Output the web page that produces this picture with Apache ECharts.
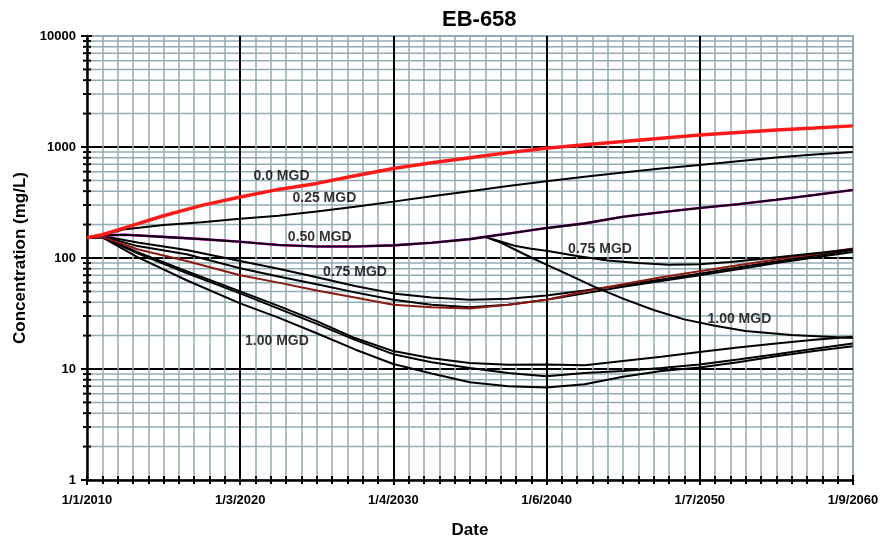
<!DOCTYPE html>
<html>
<head>
	<meta charset="utf-8">
	<script src="https://cdn.jsdelivr.net/npm/echarts@6.0.0/dist/echarts.min.js"></script>
	<style>
		html, body { margin: 0; padding: 0; background: #fff; }
		#main { width: 889px; height: 538px; }
	</style>
</head>
<body>
	<div id="main"></div>
	<script type="text/javascript">
		// [year, mg/L]
		const mgd000 = [[2010, 152], [2011, 162], [2012.5, 188], [2015, 240], [2017.5, 298], [2020, 355], [2022.5, 415], [2025, 470], [2027.5, 550], [2030, 640], [2032.5, 720], [2035, 800], [2037.5, 890], [2040, 975], [2042.5, 1050], [2045, 1120], [2047.5, 1200], [2050, 1280], [2052.5, 1350], [2055, 1420], [2057.5, 1480], [2060, 1550]]
		const mgd025 = [[2010, 152], [2011, 160], [2012.5, 182], [2015, 198], [2017.5, 210], [2020, 226], [2022.5, 240], [2025, 262], [2027.5, 290], [2030, 322], [2032.5, 360], [2035, 400], [2037.5, 445], [2040, 492], [2042.5, 540], [2045, 590], [2047.5, 640], [2050, 690], [2052.5, 745], [2055, 805], [2057.5, 855], [2060, 900]]
		const mgd050 = [[2010, 152], [2011, 160], [2012.5, 162], [2015, 155], [2017.5, 148], [2020, 140], [2022.5, 131], [2025, 127], [2027.5, 127], [2030, 130], [2032.5, 137], [2035, 148], [2036, 155], [2038, 170], [2040, 186], [2042.5, 205], [2045, 235], [2047.5, 258], [2050, 282], [2052.5, 305], [2055, 335], [2057.5, 370], [2060, 410]]
		const mgd050to075 = [[2036, 155], [2037, 141], [2038, 128], [2039, 121], [2040, 116], [2042, 104], [2044, 95], [2046, 90], [2048, 87], [2050, 88], [2052, 92], [2054, 98], [2056, 105], [2058, 112], [2060, 120]]
		const mgd050to100 = [[2036, 155], [2037, 138], [2038, 118], [2039, 101], [2040, 87], [2041.5, 70], [2043, 56], [2045, 43], [2047, 34], [2049, 28], [2051, 24.5], [2053, 22], [2056, 20.2], [2060, 19]]
		const mgd075a = [[2010, 152], [2011, 158], [2013.3, 138], [2016.5, 118], [2020, 94], [2022.5, 80], [2025, 67], [2027.5, 56], [2030, 48], [2032.5, 44], [2035, 42], [2037.5, 43], [2040, 46], [2042.5, 51], [2045, 57], [2047.5, 64], [2050, 72], [2052.5, 82], [2055, 93], [2057.5, 105], [2060, 118]]
		const mgd075b = [[2010, 152], [2011, 156], [2013.3, 128], [2016.5, 108], [2020, 81], [2022.5, 68], [2025, 58], [2027.5, 49], [2030, 42], [2032.5, 38], [2035, 36], [2037.5, 38], [2040, 42], [2042.5, 48], [2045, 55], [2047.5, 62], [2050, 70], [2052.5, 79], [2055, 90], [2057.5, 101], [2060, 113]]
		const mgd075c = [[2010, 152], [2011, 155], [2013.3, 120], [2016.5, 94], [2020, 70], [2022.5, 60], [2025, 51], [2027.5, 44], [2030, 38], [2032.5, 36], [2035, 35], [2037.5, 38], [2040, 42], [2042.5, 50], [2045, 58], [2047.5, 67], [2050, 76], [2052.5, 86], [2055, 97], [2057.5, 108], [2060, 122]]
		const mgd100a = [[2010, 152], [2011, 155], [2013.3, 113], [2016.5, 76], [2020, 50], [2022.5, 37], [2025, 27], [2027.5, 19], [2030, 14.5], [2032.5, 12.5], [2035, 11.3], [2037.5, 10.9], [2040, 11], [2042.5, 10.8], [2045, 11.8], [2047.5, 12.9], [2050, 14.2], [2052.5, 15.6], [2055, 17], [2057.5, 18.3], [2060, 19.5]]
		const mgd100b = [[2010, 152], [2011, 154], [2013.3, 110], [2016.5, 73], [2020, 48], [2022.5, 35], [2025, 25.5], [2027.5, 18.3], [2030, 13.6], [2032.5, 11.5], [2035, 10.2], [2037.5, 9.2], [2040, 8.6], [2042.5, 9.2], [2045, 9.6], [2047.5, 10.2], [2050, 11], [2052.5, 12.2], [2055, 13.6], [2057.5, 15.2], [2060, 17]]
		const mgd100c = [[2010, 152], [2011, 153], [2013.3, 102], [2016.5, 63], [2020, 39], [2022.5, 29], [2025, 21], [2027.5, 15], [2030, 11.1], [2032.5, 9.1], [2035, 7.6], [2037.5, 7], [2040, 6.8], [2042.5, 7.3], [2045, 8.5], [2047.5, 9.6], [2050, 10.3], [2052.5, 11.5], [2055, 13], [2057.5, 14.5], [2060, 16]]

		const labelSpots = [[2022.7, 548, '0.0 MGD'], [2025.5, 347, '0.25 MGD'], [2025.2, 155, '0.50 MGD'], [2027.5, 75, '0.75 MGD'], [2022.4, 17.9, '1.00 MGD'], [2043.5, 120, '0.75 MGD'], [2052.6, 28.3, '1.00 MGD']]
		const minorLogValues = [2, 3, 4, 5, 6, 7, 8, 9, 20, 30, 40, 50, 60, 70, 80, 90, 200, 300, 400, 500, 600, 700, 800, 900, 2000, 3000, 4000, 5000, 6000, 7000, 8000, 9000]

		const DAY0 = Date.UTC(2010, 0, 1)
		const X_MAX = 18270
		const toDays = y => (y - 2010) * 365.25
		const toXY = arr => arr.map(([y, v]) => [toDays(y), v])

		const gridTeal = '#93acb1'
		const font = 'Liberation Sans, Arial, sans-serif'
		const tickFont = { fontFamily: font, fontWeight: 'bold', fontSize: 13, color: '#000' }

		function dateLabel(v) {
			const d = new Date(DAY0 + v * 86400000)
			return (d.getUTCMonth() + 1) + '/' + d.getUTCDate() + '/' + d.getUTCFullYear()
		}

		function line(data, color, width, z) {
			return {
				type: 'line', data: toXY(data), showSymbol: false, symbol: 'none',
				lineStyle: { color, width }, z: z || 3, silent: true,
			}
		}

		var myChart = echarts.init(document.getElementById('main'))

		var option = {
			animation: false,
			backgroundColor: '#fff',
			title: {
				text: 'EB-658', left: 437, top: 4,
				textStyle: { fontFamily: font, fontWeight: 'bold', fontSize: 22, color: '#000' },
			},
			grid: {
				left: 87, right: 36, top: 36, bottom: 58, outerBoundsMode: 'none', containLabel: false,
				show: true, borderColor: gridTeal, borderWidth: 2,
			},
			xAxis: [{
				type: 'value', min: 0, max: X_MAX, interval: 3654,
				name: 'Date', nameLocation: 'middle', nameGap: 42,
				nameTextStyle: { fontFamily: font, fontWeight: 'bold', fontSize: 17, color: '#000' },
				axisLine: { lineStyle: { color: '#000', width: 2.5 } },
				axisTick: { length: 5, lineStyle: { color: '#000', width: 2 } },
				minorTick: { show: true, splitNumber: 10, length: 4, lineStyle: { color: '#000', width: 2 } },
				splitLine: { show: true, showMinLine: false, showMaxLine: false, lineStyle: { color: '#000', width: 2 } },
				minorSplitLine: { show: true, lineStyle: { color: gridTeal, width: 1.5 } },
				axisLabel: Object.assign({ margin: 14, formatter: dateLabel }, tickFont),
			}, {
				type: 'value', min: 0, max: X_MAX, interval: 3654, position: 'bottom',
				axisLine: { show: false },
				axisTick: { inside: true, length: 5, lineStyle: { color: '#000', width: 2 } },
				minorTick: { show: true, splitNumber: 10, length: 4, lineStyle: { color: '#000', width: 2 } },
				splitLine: { show: false }, axisLabel: { show: false },
			}],
			yAxis: [{
				type: 'log', logBase: 10, min: 1, max: 10000,
				name: 'Concentration (mg/L)', nameLocation: 'middle', nameGap: 53,
				nameTextStyle: { fontFamily: font, fontWeight: 'bold', fontSize: 17, color: '#000' },
				axisLine: { lineStyle: { color: '#000', width: 2.5 } },
				axisTick: { length: 6, lineStyle: { color: '#000', width: 2 } },
				splitLine: { show: true, showMinLine: false, showMaxLine: false, lineStyle: { color: '#000', width: 2 } },
				axisLabel: Object.assign({ margin: 11, formatter: v => String(Math.round(v)) }, tickFont),
			}, {
				type: 'log', logBase: 10, min: 1, max: 10000, position: 'left',
				axisLine: { show: false },
				axisTick: { inside: true, length: 5, lineStyle: { color: '#000', width: 2 } },
				splitLine: { show: false }, axisLabel: { show: false },
			}],
			series: [
				{
					// log minor grid + minor ticks on the y axis
					type: 'custom', z: -1, silent: true, clip: false,
					data: minorLogValues.map(v => [0, v]),
					renderItem: (params, api) => {
						const p = api.coord([0, api.value(1)])
						const q = api.coord([X_MAX, api.value(1)])
						return {
							type: 'group', children: [
								{ type: 'line', shape: { x1: p[0] + 1, y1: p[1], x2: q[0], y2: q[1] }, style: { stroke: gridTeal, lineWidth: 1.5 } },
								{ type: 'line', shape: { x1: p[0] - 4, y1: p[1], x2: p[0] + 4, y2: p[1] }, style: { stroke: '#000', lineWidth: 2 } },
							],
						}
					},
				},
				line(mgd100c, '#000', 2),
				line(mgd100b, '#000', 2),
				line(mgd100a, '#000', 2),
				line(mgd075b, '#000', 2),
				line(mgd075a, '#000', 2),
				line(mgd075c, '#8c1a14', 2),
				line(mgd050to100, '#000', 2),
				line(mgd050to075, '#000', 2),
				line(mgd050, '#ff00ff', 2.6),
				line(mgd050, '#000', 2.1, 4),
				line(mgd025, '#000', 2),
				line(mgd000, '#ff1a1a', 3.5, 5),
				{
					type: 'scatter', z: 6, silent: true,
					symbolSize: 1, itemStyle: { color: 'rgba(0,0,0,0)' },
					data: labelSpots.map(([y, v, t]) => [toDays(y), v, t]),
					label: {
						show: true, position: 'inside', formatter: p => p.data[2],
						fontFamily: font, fontWeight: 'bold', fontSize: 14, color: '#000',
					},
				},
			],
		}

		myChart.setOption(option)
	</script>
</body>
</html>
